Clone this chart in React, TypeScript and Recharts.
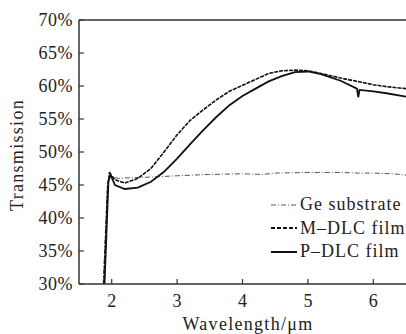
import React from 'react';
import { LineChart, Line, XAxis, YAxis, ReferenceLine } from 'recharts';

const xTicks = [2, 3, 4, 5, 6];
const yTicks = [30, 35, 40, 45, 50, 55, 60, 65, 70];

const geWavelength = [1.87, 1.93, 1.96, 2.0, 2.1, 2.3, 2.6, 3.0, 3.5, 4.0, 4.3, 4.5, 5.0, 5.5, 5.8, 6.0, 6.3, 6.5];
const geTransmission = [30, 44, 46.9, 46.3, 46.0, 46.1, 46.2, 46.4, 46.6, 46.7, 46.6, 46.8, 46.9, 46.9, 46.8, 46.8, 46.7, 46.5];

const mWavelength = [1.88, 1.94, 1.97, 2.05, 2.2, 2.4, 2.6, 2.8, 3.0, 3.2, 3.4, 3.6, 3.8, 4.0, 4.2, 4.4, 4.6, 4.8, 5.0, 5.2, 5.5, 5.8, 6.0, 6.2, 6.5];
const mTransmission = [30, 45, 46.8, 45.8, 45.3, 46.0, 47.5, 50.0, 52.6, 54.8, 56.4, 57.9, 59.2, 60.1, 61.0, 61.9, 62.3, 62.4, 62.3, 61.9, 61.2, 60.6, 60.2, 59.9, 59.6];

const pWavelength = [1.89, 1.95, 1.98, 2.05, 2.2, 2.4, 2.6, 2.8, 3.0, 3.2, 3.4, 3.6, 3.8, 4.0, 4.2, 4.4, 4.6, 4.8, 5.0, 5.2, 5.5, 5.75, 5.77, 5.79, 6.0, 6.2, 6.5];
const pTransmission = [30, 45.5, 46.6, 45.0, 44.4, 44.6, 45.5, 47.0, 49.0, 51.2, 53.3, 55.3, 57.1, 58.5, 59.6, 60.7, 61.5, 62.1, 62.2, 61.8, 60.8, 59.6, 58.3, 59.4, 59.2, 58.9, 58.4];

const zip = (xs: number[], ys: number[]) => xs.map((x, i) => ({ x, y: ys[i] }));
const geData = zip(geWavelength, geTransmission);
const mData = zip(mWavelength, mTransmission);
const pData = zip(pWavelength, pTransmission);

const font = '"Liberation Serif", "Times New Roman", serif';
const axisColor = '#333';

const YTick = ({ x, y, payload }: any) => (
  <g>
    <line x1={x} x2={x + 5} y1={y} y2={y} stroke={axisColor} strokeWidth={1.2} />
    <text x={x - 6} y={y} dy={6} textAnchor="end" fontSize={18} fontFamily={font} fill="#222" letterSpacing={0.5}>
      {payload.value}%
    </text>
  </g>
);

const XTick = ({ x, y, payload }: any) => (
  <g>
    <line x1={x} x2={x} y1={y} y2={y - 5} stroke={axisColor} strokeWidth={1.2} />
    <text x={x} y={y} dy={23} textAnchor="middle" fontSize={18} fontFamily={font} fill="#222">
      {payload.value}
    </text>
  </g>
);

const legendItems = [
  { name: 'Ge substrate', dash: '5 2 1 2', width: 1, color: '#555' },
  { name: 'M\u2013DLC film', dash: '4 2', width: 2, color: '#111' },
  { name: 'P\u2013DLC film', dash: undefined, width: 2, color: '#111' },
];

export default function App() {
  return (
    <div style={{ position: 'absolute', left: 0, top: 0, width: 406, height: 334, background: '#fff' }}>
      <LineChart width={406} height={334} margin={{ top: 20, right: 0, left: 0, bottom: 0 }}>
        <XAxis
          type="number"
          dataKey="x"
          domain={[1.5, 6.5]}
          ticks={xTicks}
          allowDataOverflow
          height={50}
          tickSize={0}
          tickMargin={0}
          tick={<XTick />}
          stroke={axisColor}
          strokeWidth={1.5}
          label={{
            content: () => (
              <text x={248} y={330} textAnchor="middle" fontSize={18} fontFamily={font} fill="#222" letterSpacing={1.3}>
                Wavelength/μm
              </text>
            ),
          }}
        />
        <YAxis
          type="number"
          domain={[30, 70]}
          ticks={yTicks}
          allowDataOverflow
          width={79}
          tickSize={0}
          tickMargin={0}
          tick={<YTick />}
          stroke={axisColor}
          strokeWidth={1.5}
          label={{
            content: () => (
              <text
                x={23}
                y={155}
                transform="rotate(-90 23 155)"
                textAnchor="middle"
                fontSize={18}
                fontFamily={font}
                fill="#222"
                letterSpacing={1.3}
              >
                Transmission
              </text>
            ),
          }}
        />
        <ReferenceLine y={70} stroke={axisColor} strokeWidth={1.5} />
        <Line data={geData} dataKey="y" type="linear" stroke="#555" strokeWidth={1} strokeDasharray="5 2 1 2" dot={false} isAnimationActive={false} />
        <Line data={mData} dataKey="y" type="linear" stroke="#111" strokeWidth={1.6} strokeDasharray="4 1" dot={false} isAnimationActive={false} />
        <Line data={pData} dataKey="y" type="linear" stroke="#111" strokeWidth={1.8} dot={false} isAnimationActive={false} />
      </LineChart>
      <div style={{ position: 'absolute', left: 270, top: 193, fontFamily: font, fontSize: 18, color: '#222' }}>
        {legendItems.map((item) => (
          <div key={item.name} style={{ display: 'flex', alignItems: 'center', height: 23.5, letterSpacing: 1 }}>
            <svg width={28} height={10} style={{ marginRight: 2 }}>
              <line x1={1} x2={27} y1={5} y2={5} stroke={item.color} strokeWidth={item.width} strokeDasharray={item.dash} />
            </svg>
            <span>{item.name}</span>
          </div>
        ))}
      </div>
    </div>
  );
}
